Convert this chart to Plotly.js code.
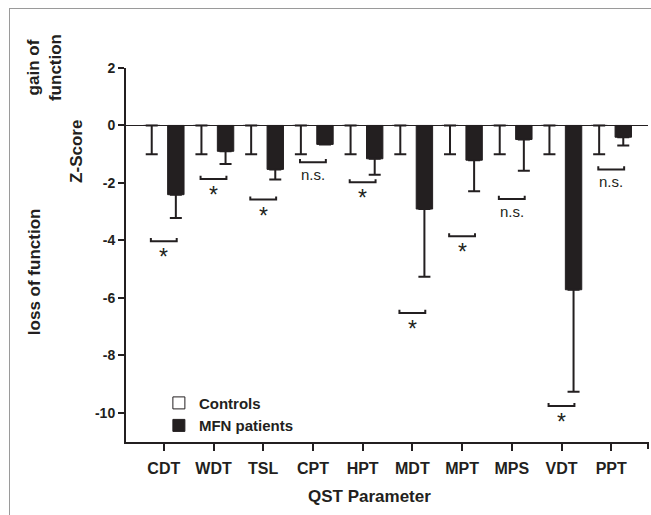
<!DOCTYPE html>
<html>
<head>
<meta charset="utf-8">
<script src="https://cdn.plot.ly/plotly-3.0.1.min.js"></script>
<style>
  html, body { margin: 0; padding: 0; background: #fff; }
  #wrap { position: relative; width: 651px; height: 515px; overflow: hidden; }
  #chart { width: 651px; height: 515px; }
  #frame { position: absolute; left: 9px; top: 8px; width: 700px; height: 600px;
           border-top: 1px solid #9a9a9a; border-left: 1px solid #9a9a9a; pointer-events: none; }
</style>
</head>
<body>
<div id="wrap">
  <div id="chart"></div>
  <div id="frame"></div>
</div>
<script>
// ---- data ----
const categories = ['CDT', 'WDT', 'TSL', 'CPT', 'HPT', 'MDT', 'MPT', 'MPS', 'VDT', 'PPT'];
const controls   = [0, 0, 0, 0, 0, 0, 0, 0, 0, 0];
const controlsSD = [1, 1, 1, 1, 1, 1, 1, 1, 1, 1];
const patients   = [-2.41, -0.90, -1.53, -0.66, -1.16, -2.91, -1.21, -0.49, -5.72, -0.41];
const patientsSD = [0.81, 0.44, 0.35, 0, 0.56, 2.36, 1.08, 1.09, 3.55, 0.29];
const sigLevel   = [-4.03, -1.86, -2.58, -1.28, -1.98, -6.53, -3.86, -2.56, -9.77, -1.53];
const sigLabel   = ['*', '*', '*', 'n.s.', '*', '*', '*', 'n.s.', '*', 'n.s.'];
const yTicks     = [2, 0, -2, -4, -6, -8, -10];

const ink = '#231f20';
const fontFam = '"Liberation Sans", Arial, sans-serif';

const traces = [
  {
    type: 'bar', name: 'Controls', x: categories, y: controls,
    marker: { color: '#ffffff', line: { color: ink, width: 1 } },
    error_y: { type: 'data', symmetric: false, array: controls.map(() => 0),
               arrayminus: controlsSD, color: ink, thickness: 2, width: 6 },
    hoverinfo: 'skip'
  },
  {
    type: 'bar', name: 'MFN patients', x: categories, y: patients,
    marker: { color: ink, line: { color: ink, width: 1 } },
    error_y: { type: 'data', symmetric: false, array: patients.map(() => 0),
               arrayminus: patientsSD, color: ink, thickness: 2, width: 6 },
    hoverinfo: 'skip'
  }
];

// significance brackets (from control centre to patient centre) and labels
const half = 0.26, lift = 0.11;
const shapes = sigLevel.map((lv, i) => ({
  type: 'path', xref: 'x', yref: 'y',
  path: `M${i - half},${lv + lift} L${i - half},${lv} L${i + half},${lv} L${i + half},${lv + lift}`,
  line: { color: ink, width: 2 }
}));
// end tick on the right of the x axis
shapes.push({ type: 'line', xref: 'paper', yref: 'paper', x0: 1, x1: 1, y0: 0, y1: -0.019,
              line: { color: ink, width: 2 } });

const annotations = sigLevel.map((lv, i) => {
  const star = sigLabel[i] === '*';
  return {
    xref: 'x', yref: 'y', x: i, y: lv, text: sigLabel[i], showarrow: false,
    xanchor: 'center', yanchor: 'top', yshift: star ? -1 : -2,
    font: { family: fontFam, size: star ? 23 : 15, color: ink }
  };
});
annotations.push(
  { xref: 'paper', yref: 'paper', x: -0.096, y: 0.778, text: '<b>Z-Score</b>', textangle: -90,
    showarrow: false, xanchor: 'center', yanchor: 'middle', font: { family: fontFam, size: 17, color: ink } },
  { xref: 'paper', yref: 'paper', x: -0.157, y: 1.0, text: '<b>gain of<br>function</b>', textangle: -90,
    showarrow: false, xanchor: 'center', yanchor: 'middle', font: { family: fontFam, size: 17, color: ink } },
  { xref: 'paper', yref: 'paper', x: -0.176, y: 0.4545, text: '<b>loss of function</b>', textangle: -90,
    showarrow: false, xanchor: 'center', yanchor: 'middle', font: { family: fontFam, size: 17, color: ink } },
  { xref: 'paper', yref: 'paper', x: 0.467, y: -0.147, text: '<b>QST Parameter</b>',
    showarrow: false, xanchor: 'center', yanchor: 'middle', font: { family: fontFam, size: 17, color: ink } }
);

const layout = {
  width: 651, height: 515,
  margin: { l: 126, r: 3, t: 68, b: 73 },
  paper_bgcolor: '#ffffff', plot_bgcolor: '#ffffff',
  font: { family: fontFam, color: ink },
  barmode: 'group', bargap: 0.03, bargroupgap: 0.32,
  showlegend: true,
  legend: { x: 0.063, y: 0.148, xanchor: 'left', yanchor: 'top', bgcolor: 'rgba(0,0,0,0)',
            font: { family: fontFam, size: 15, color: ink, weight: 'bold' }, tracegroupgap: 0 },
  xaxis: {
    type: 'category', range: [-0.76, 9.74], showgrid: false, zeroline: false,
    showline: true, linecolor: ink, linewidth: 2,
    ticks: 'outside', ticklen: 7, tickwidth: 2, tickcolor: ink,
    tickfont: { family: fontFam, size: 16, color: ink, weight: 'bold' },
    ticklabelstandoff: 4, fixedrange: true
  },
  yaxis: {
    range: [-11.02, 2], tickvals: yTicks, ticktext: yTicks.map(String), showgrid: false,
    zeroline: true, zerolinecolor: ink, zerolinewidth: 1.2,
    showline: true, linecolor: ink, linewidth: 2,
    ticks: 'outside', ticklen: 6, tickwidth: 2, tickcolor: ink,
    tickfont: { family: fontFam, size: 14, color: ink, weight: 'bold' }, fixedrange: true
  },
  shapes: shapes,
  annotations: annotations
};

Plotly.newPlot('chart', traces, layout, { staticPlot: true, displayModeBar: false });
</script>
</body>
</html>
